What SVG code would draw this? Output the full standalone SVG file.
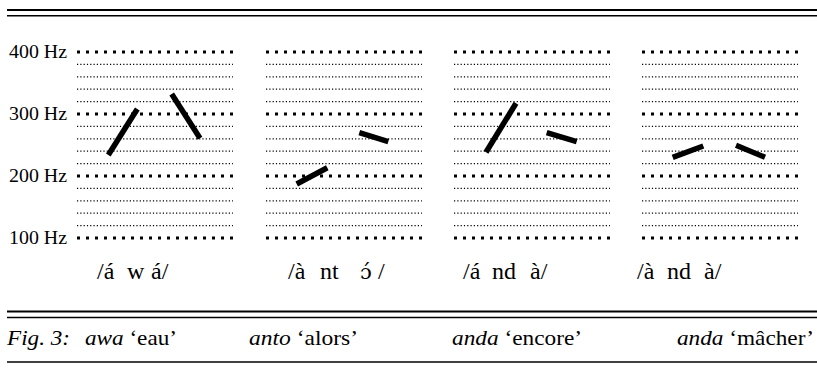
<svg xmlns="http://www.w3.org/2000/svg" xmlns:xlink="http://www.w3.org/1999/xlink" width="817" height="369" viewBox="0 0 817 369">
<style>
.rule{stroke:#000;fill:none}
.maj{stroke:#000;stroke-width:3;stroke-dasharray:3 6}
.min{stroke:#000;stroke-width:1.2;stroke-dasharray:1.2 2.1}
.bar{stroke:#000;stroke-width:5.5;stroke-linecap:butt}
.ax{font-family:"Liberation Serif","Times New Roman",serif;font-size:18px;fill:#000}
.tr{font-family:"Liberation Serif","Times New Roman",serif;font-size:24px;fill:#000}
.dj{font-family:"DejaVu Serif","Liberation Serif",serif;font-size:21px}
.cap{font-family:"Liberation Serif","Times New Roman",serif;font-size:21px;fill:#000}
.it{font-style:italic}
</style>
<defs>
<g id="grid">
<line class="maj" x1="0" y1="52" x2="156" y2="52"/>
<line class="min" x1="0" y1="64.4" x2="156" y2="64.4"/>
<line class="min" x1="0" y1="76.8" x2="156" y2="76.8"/>
<line class="min" x1="0" y1="89.2" x2="156" y2="89.2"/>
<line class="min" x1="0" y1="101.6" x2="156" y2="101.6"/>
<line class="maj" x1="0" y1="114" x2="156" y2="114"/>
<line class="min" x1="0" y1="126.4" x2="156" y2="126.4"/>
<line class="min" x1="0" y1="138.8" x2="156" y2="138.8"/>
<line class="min" x1="0" y1="151.2" x2="156" y2="151.2"/>
<line class="min" x1="0" y1="163.6" x2="156" y2="163.6"/>
<line class="maj" x1="0" y1="176" x2="156" y2="176"/>
<line class="min" x1="0" y1="188.4" x2="156" y2="188.4"/>
<line class="min" x1="0" y1="200.8" x2="156" y2="200.8"/>
<line class="min" x1="0" y1="213.2" x2="156" y2="213.2"/>
<line class="min" x1="0" y1="225.6" x2="156" y2="225.6"/>
<line class="maj" x1="0" y1="238" x2="156" y2="238"/>
</g>
</defs>
<g id="rules">
<line class="rule" x1="7" y1="10" x2="817" y2="10" stroke-width="2"/>
<line class="rule" x1="7" y1="15.7" x2="817" y2="15.7" stroke-width="1.5"/>
<line class="rule" x1="7" y1="311.5" x2="817" y2="311.5" stroke-width="2"/>
<line class="rule" x1="7" y1="317.5" x2="817" y2="317.5" stroke-width="1.5"/>
<line class="rule" x1="7" y1="362" x2="817" y2="362" stroke-width="1.5"/>
</g>
<g id="axis">
<text class="ax" x="9" y="58" textLength="58" lengthAdjust="spacingAndGlyphs">400 Hz</text>
<text class="ax" x="9" y="120" textLength="58" lengthAdjust="spacingAndGlyphs">300 Hz</text>
<text class="ax" x="9" y="182" textLength="58" lengthAdjust="spacingAndGlyphs">200 Hz</text>
<text class="ax" x="9" y="244" textLength="58" lengthAdjust="spacingAndGlyphs">100 Hz</text>
</g>
<g id="panel1">
<use xlink:href="#grid" x="77"/>
<line class="bar" x1="108.3" y1="155" x2="137.3" y2="109"/>
<line class="bar" x1="171.7" y1="94" x2="200" y2="138.3"/>
<text class="tr" y="279"><tspan x="97">/á</tspan><tspan x="127">w</tspan><tspan x="151">á/</tspan></text>
</g>
<g id="panel2">
<use xlink:href="#grid" x="266"/>
<line class="bar" x1="296.7" y1="184" x2="327.3" y2="167.7"/>
<line class="bar" x1="359.3" y1="132.7" x2="388.3" y2="141.7"/>
<text class="tr" y="279"><tspan x="288">/à</tspan><tspan x="320">nt</tspan><tspan x="360" class="dj">ɔ́</tspan><tspan x="378">/</tspan></text>
</g>
<g id="panel3">
<use xlink:href="#grid" x="454"/>
<line class="bar" x1="486" y1="152.3" x2="516" y2="103.3"/>
<line class="bar" x1="546.7" y1="132.7" x2="576.7" y2="141.7"/>
<text class="tr" y="279"><tspan x="463">/á</tspan><tspan x="492">nd</tspan><tspan x="530">à/</tspan></text>
</g>
<g id="panel4">
<use xlink:href="#grid" x="642"/>
<line class="bar" x1="672.7" y1="157.3" x2="703.3" y2="146"/>
<line class="bar" x1="736" y1="145.3" x2="765" y2="157.3"/>
<text class="tr" y="279"><tspan x="637">/à</tspan><tspan x="667">nd</tspan><tspan x="704">à/</tspan></text>
</g>
<g id="caption">
<text class="cap it" x="7" y="345" textLength="63" lengthAdjust="spacingAndGlyphs">Fig. 3:</text>
<text class="cap" x="85" y="345" textLength="92" lengthAdjust="spacingAndGlyphs"><tspan class="it">awa</tspan> ‘eau’</text>
<text class="cap" x="249" y="345" textLength="109" lengthAdjust="spacingAndGlyphs"><tspan class="it">anto</tspan> ‘alors’</text>
<text class="cap" x="452" y="345" textLength="130" lengthAdjust="spacingAndGlyphs"><tspan class="it">anda</tspan> ‘encore’</text>
<text class="cap" x="677" y="345" textLength="137" lengthAdjust="spacingAndGlyphs"><tspan class="it">anda</tspan> ‘mâcher’</text>
</g>
</svg>
